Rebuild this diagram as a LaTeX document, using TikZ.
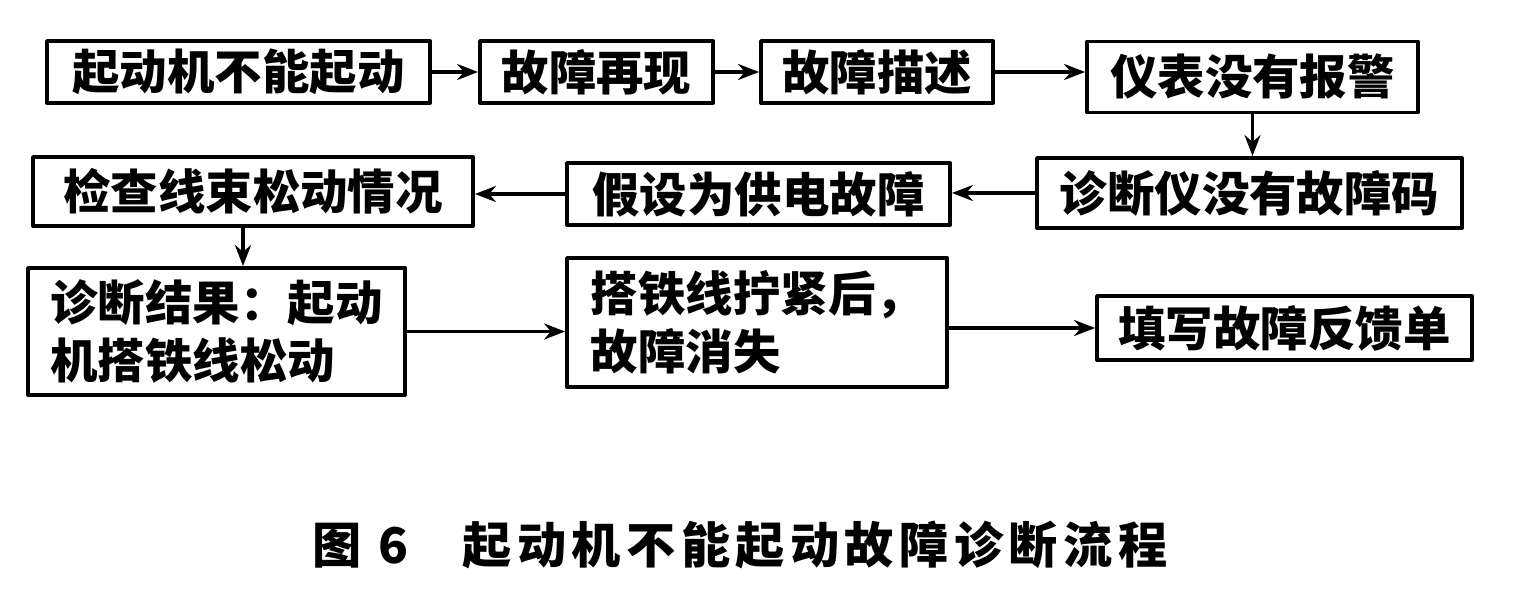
\documentclass[tikz,border=0pt]{standalone}
\usepackage{fontspec}
\newfontfamily\cjk{Noto Sans CJK SC}
\newfontfamily\cjkcap[LetterSpace=11]{Noto Sans CJK SC}
\usetikzlibrary{arrows.meta}
\begin{document}
\begin{tikzpicture}[x=0.02cm,y=-0.02cm,>={Stealth[length=0.42cm,width=0.32cm]},line join=round,
	hop/.style={draw,line width=2.2pt,inner sep=0pt,font=\cjk\bfseries\fontsize{27}{33}\selectfont},
	muiten/.style={->,line width=1.9pt}]
	\useasboundingbox (0,0) rectangle (1520,588);
	% hang tren
	\node[hop,minimum width=383*0.02cm,minimum height=62*0.02cm] (A) at (238.5,72) {起动机不能起动};
	\node[hop,minimum width=233*0.02cm,minimum height=62*0.02cm] (B) at (596.5,72) {故障再现};
	\node[hop,minimum width=232*0.02cm,minimum height=62*0.02cm] (C) at (877,72) {故障描述};
	\node[hop,minimum width=331*0.02cm,minimum height=71*0.02cm] (D) at (1252.5,77) {仪表没有报警};
	% hang giua
	\node[hop,minimum width=440*0.02cm,minimum height=69*0.02cm] (E) at (253,191.5) {检查线束松动情况};
	\node[hop,minimum width=383*0.02cm,minimum height=62*0.02cm] (F) at (758.5,194) {假设为供电故障};
	\node[hop,minimum width=425*0.02cm,minimum height=70*0.02cm] (G) at (1249.5,193) {诊断仪没有故障码};
	% hang duoi
	\node[hop,minimum width=377*0.02cm,minimum height=127*0.02cm,align=left] (H) at (216.5,331.5) {诊断结果：起动\\机搭铁线松动};
	\node[hop,minimum width=380*0.02cm,minimum height=129*0.02cm,align=left] (I) at (757,322.5) {搭铁线拧紧后，\\故障消失\hspace{3em}};
	\node[hop,minimum width=375*0.02cm,minimum height=64*0.02cm] (J) at (1284.5,328) {填写故障反馈单};
	% cac mui ten
	\draw[muiten] (A) -- (B);
	\draw[muiten] (B) -- (C);
	\draw[muiten] (C) -- (D.west |- C.east);
	\draw[muiten] (D.south) -- (D.south |- G.north);
	\draw[muiten] (G.west) -- (G.west -| F.east);
	\draw[muiten] (F.west) -- (F.west -| E.east);
	\draw[muiten] ([xshift=-0.2cm]E.south) -- ([xshift=-0.2cm]E.south |- H.north);
	\draw[muiten] (H.east) -- (H.east -| I.west);
	\draw[muiten] (J.west -| I.east) -- (J.west);
	% chu thich
	\node[font=\cjkcap\bfseries\fontsize{28}{32}\selectfont] (T) at (740,545) {图 6\hspace{1.1em}起动机不能起动故障诊断流程};
\end{tikzpicture}
\end{document}
